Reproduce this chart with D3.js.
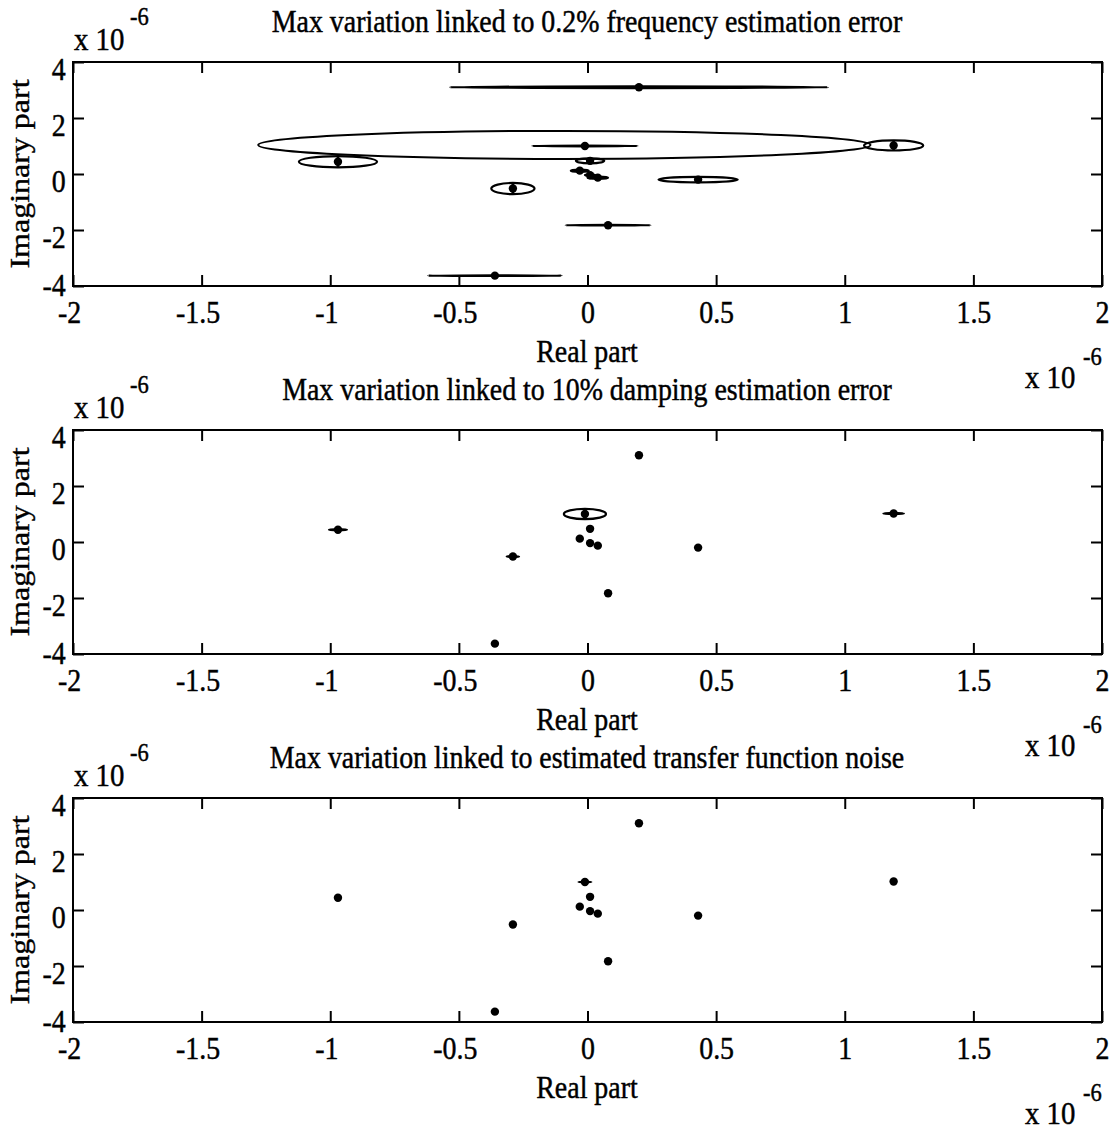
<!DOCTYPE html>
<html>
<head>
<meta charset="UTF-8">
<title>Pole variations</title>
<script src="https://d3js.org/d3.v7.min.js"></script>
<style>
  body { margin: 0; background: #fff; }
  svg { display: block; background: #fff; }
  text { font-family: 'Liberation Serif', 'Times New Roman', serif; fill: #000; stroke: #000; stroke-width: 0.45px; }
</style>
</head>
<body>
<svg width="1112" height="1130"></svg>
<script>
// panel titles
const titles = [
  "Max variation linked to 0.2% frequency estimation error",
  "Max variation linked to 10% damping estimation error",
  "Max variation linked to estimated transfer function noise"
];
const xTicks = [-2, -1.5, -1, -0.5, 0, 0.5, 1, 1.5, 2];
const yTicks = [-4, -2, 0, 2, 4];

// identified poles (x 1e-6)
const poleRe = [0.2, -0.01, 0.01, -0.03, 0.01, 0.04, 0.08, -0.36, -0.29, 0.43, -0.97, 1.19];
const poleIm = [3.1, 1.0, 0.47, 0.12, -0.04, -0.13, -1.83, -3.63, -0.52, -0.2, 0.44, 1.02];

// half-widths of the variation ellipses, one pair per panel
const freqErrRe = [0.735, 0.205, 0.055, 0.035, 0.02, 0.04, 0.165, 0.26, 0.084, 0.154, 0.152, 0.115];
const freqErrIm = [0.03, 0.01, 0.09, 0.04, 0.03, 0.04, 0.01, 0.01, 0.2, 0.1, 0.2, 0.18];
const dampErrRe = [0.01, 0.082, 0.01, 0.01, 0.01, 0.01, 0.01, 0.01, 0.024, 0.01, 0.035, 0.04];
const dampErrIm = [0.01, 0.18, 0.01, 0.01, 0.01, 0.01, 0.01, 0.01, 0.02, 0.01, 0.02, 0.02];
const noiseErrRe = [0.005, 0.025, 0.005, 0.005, 0.005, 0.005, 0.005, 0.005, 0.005, 0.005, 0.005, 0.005];
const noiseErrIm = [0.005, 0.005, 0.005, 0.005, 0.005, 0.005, 0.005, 0.005, 0.005, 0.005, 0.005, 0.005];

// large envelope in the frequency panel
const envelopeCenter = [-0.09, 1.04];
const envelopeHalf = [1.19, 0.5];

const errRe = [freqErrRe, dampErrRe, noiseErrRe];
const errIm = [freqErrIm, dampErrIm, noiseErrIm];

const svg = d3.select("svg");
const left = 73, right = 1102, plotH = 224;
const tops = [62, 430, 798];
const FS = 31, SX = 0.9;

const x = d3.scaleLinear().domain([-2, 2]).range([left, right]);

function hText(g, str, px, py, anchor, size) {
  g.append("text")
    .attr("transform", `translate(${px},${py}) scale(${SX},1)`)
    .attr("text-anchor", anchor || "middle")
    .attr("font-size", size || FS)
    .text(str);
}

tops.forEach((top, p) => {
  const bottom = top + plotH;
  const y = d3.scaleLinear().domain([-4, 4]).range([bottom, top]);
  const g = svg.append("g");

  // frame
  g.append("rect")
    .attr("x", left).attr("y", top)
    .attr("width", right - left).attr("height", plotH)
    .attr("fill", "none").attr("stroke", "#000").attr("stroke-width", 2);

  const fmt = d => String(d);
  const styleAxis = a => {
    a.select(".domain").remove();
    a.selectAll("line").attr("stroke-width", 2);
    a.attr("font-size", FS).attr("font-family", "'Liberation Serif', serif");
  };

  g.append("g").attr("transform", `translate(0,${bottom})`)
    .call(d3.axisBottom(x).tickValues(xTicks).tickSize(-11).tickSizeOuter(0).tickPadding(15).tickFormat(fmt))
    .call(styleAxis)
    .selectAll("text")
    .attr("transform", d => `translate(${d < 0 ? -4 : 0},0) scale(${SX},1)`);

  g.append("g").attr("transform", `translate(0,${top})`)
    .call(d3.axisTop(x).tickValues(xTicks).tickSize(-11).tickSizeOuter(0).tickFormat(""))
    .call(styleAxis);

  g.append("g").attr("transform", `translate(${left},0)`)
    .call(d3.axisLeft(y).tickValues(yTicks).tickSize(-11).tickSizeOuter(0).tickPadding(8).tickFormat(fmt))
    .call(styleAxis)
    .selectAll("text")
    .attr("dy", d => d === -4 ? "0.3em" : "0.55em")
    .attr("transform", `scale(${SX},1)`);

  g.append("g").attr("transform", `translate(${right},0)`)
    .call(d3.axisRight(y).tickValues(yTicks).tickSize(-11).tickSizeOuter(0).tickFormat(""))
    .call(styleAxis);

  // labels
  hText(g, titles[p], 587, top - 30);
  hText(g, "Real part", 587, bottom + 76);
  hText(g, "x 10", 74, top - 12, "start", 32);
  hText(g, "-6", 130, top - 37, "start", 25);
  hText(g, "x 10", 1025, bottom + 102, "start", 32);
  hText(g, "-6", 1083, bottom + 79, "start", 25);
  g.append("text")
    .attr("transform", `translate(29,${top + plotH / 2}) rotate(-90) scale(1,0.85)`)
    .attr("text-anchor", "middle")
    .attr("font-size", 32)
    .text("Imaginary part");

  const sx = d => x(d) - x(0);
  const sy = d => y(0) - y(d);

  if (p === 0) {
    g.append("ellipse")
      .attr("cx", x(envelopeCenter[0])).attr("cy", y(envelopeCenter[1]))
      .attr("rx", sx(envelopeHalf[0])).attr("ry", sy(envelopeHalf[1]))
      .attr("fill", "none").attr("stroke", "#000").attr("stroke-width", 2);
  }

  const idx = d3.range(poleRe.length);
  g.selectAll("ellipse.err").data(idx).enter().append("ellipse")
    .attr("class", "err")
    .attr("cx", i => x(poleRe[i])).attr("cy", i => y(poleIm[i]))
    .attr("rx", i => sx(errRe[p][i])).attr("ry", i => sy(errIm[p][i]))
    .attr("fill", "none").attr("stroke", "#000").attr("stroke-width", 2.2);

  g.selectAll("line.bar").data(idx.filter(i => errIm[p][i] >= 0.1)).enter().append("line")
    .attr("class", "bar")
    .attr("x1", i => x(poleRe[i])).attr("x2", i => x(poleRe[i]))
    .attr("y1", i => y(poleIm[i] - errIm[p][i])).attr("y2", i => y(poleIm[i] + errIm[p][i]))
    .attr("stroke", "#000").attr("stroke-width", 2.5);

  g.selectAll("circle.pole").data(idx).enter().append("circle")
    .attr("class", "pole")
    .attr("cx", i => x(poleRe[i])).attr("cy", i => y(poleIm[i]))
    .attr("r", 4.2)
    .attr("fill", "#000");
});
</script>
</body>
</html>
